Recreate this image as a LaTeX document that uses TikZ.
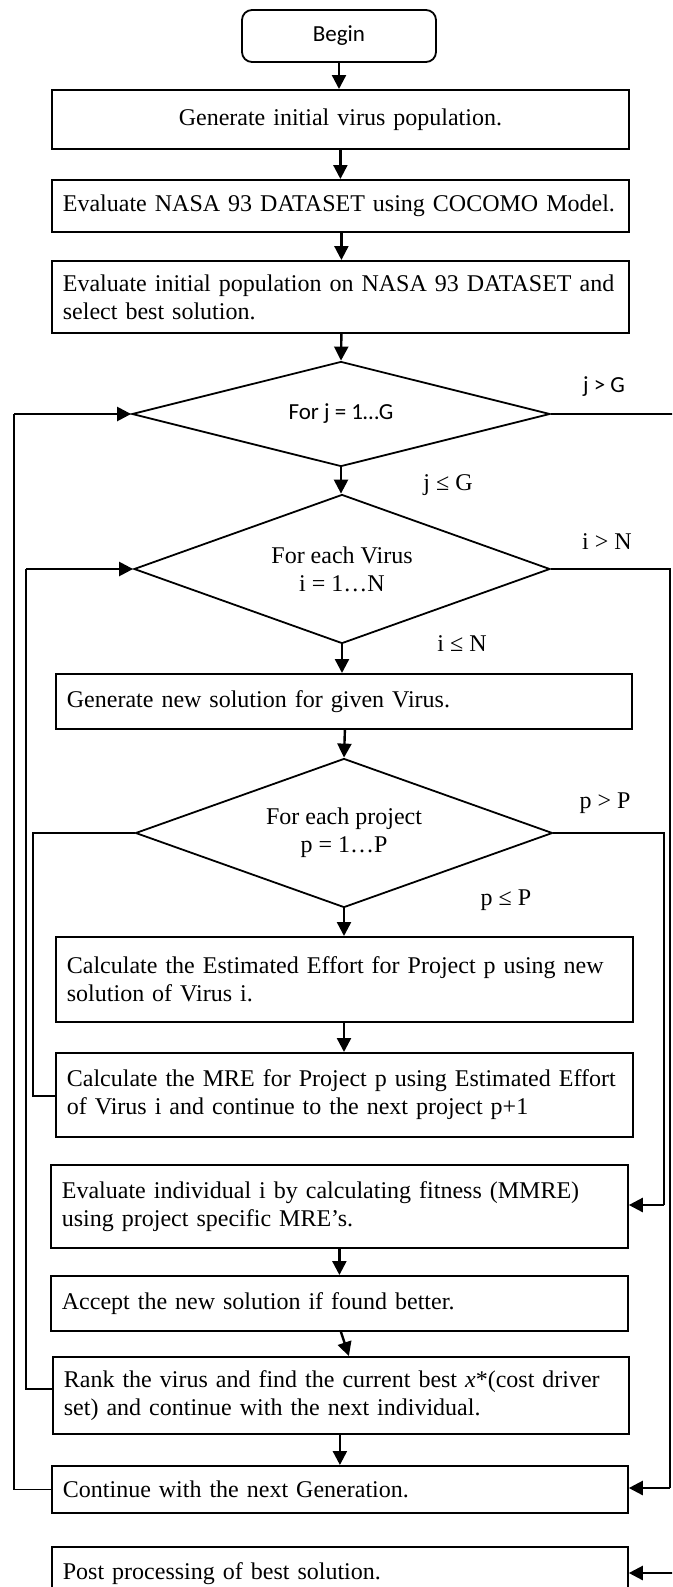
\documentclass[tikz,border=0pt]{standalone}
\usepackage{fontspec}
\setmainfont{Liberation Serif}
\newfontfamily\calibrifont{Carlito}
\usetikzlibrary{arrows.meta,shapes.geometric}
\newcommand\flowtext{\fontsize{24}{28}\selectfont}

\tikzset{
  procbox/.style={draw, line width=1.8pt, rectangle, anchor=north west,
    inner xsep=11pt, inner ysep=0pt, align=left, font=\flowtext},
  decision/.style={draw, diamond, line width=1.8pt, inner sep=0pt,
    shape aspect=2.8, align=center, font=\flowtext},
  flow/.style={line width=2.4pt, -{Triangle[length=14pt,width=14pt]}},
  loopline/.style={line width=1.2pt},
  cond/.style={font=\flowtext, inner sep=0pt},
}

\begin{document}
\begin{tikzpicture}[x=1pt,y=-1pt]
\useasboundingbox (0,0) rectangle (672,1587);
\clip (0,0) rectangle (672,1587);
\fill[white] (0,0) rectangle (672,1587);

% start terminal
\node[draw, rounded corners=10pt, line width=1.8pt, minimum width=194pt,
  minimum height=52pt, inner sep=0pt, font=\fontsize{23}{28}\selectfont\calibrifont]
  (begin) at (339,36) {Begin};

% initialisation
\node[procbox, align=center, text width=555pt, minimum height=59pt] (b1) at (51,89)
  {Generate initial virus population.};
\node[procbox, text width=555pt, minimum height=52pt] (b2) at (51,179)
  {Evaluate NASA 93 DATASET using COCOMO Model.};
\node[procbox, text width=555pt, minimum height=72pt] (b3) at (51,260)
  {Evaluate initial population on NASA 93 DATASET and\\select best solution.};

% generation loop
\node[decision, shape aspect=4, minimum width=418pt, minimum height=105pt,
  font=\fontsize{23}{28}\selectfont\calibrifont] (d1) at (341,414) {For j = 1…G};
% virus loop
\node[decision, minimum width=416pt, minimum height=149pt] (d2) at (342,569)
  {For each Virus\\i = 1…N};
\node[procbox, text width=554pt, minimum height=55pt] (b4) at (55,673)
  {Generate new solution for given Virus.};
% project loop
\node[decision, minimum width=417pt, minimum height=149pt] (d3) at (344,833)
  {For each project\\p = 1…P};
\node[procbox, text width=555pt, minimum height=85pt] (b5) at (55,936)
  {Calculate the Estimated Effort for Project p using new\\solution of Virus i.};
\node[procbox, text width=555pt, minimum height=84pt] (b6) at (55,1052)
  {Calculate the MRE for Project p using Estimated Effort\\of Virus i and continue to the next project p+1};

\node[procbox, text width=555pt, minimum height=83pt] (b7) at (50,1164)
  {Evaluate individual i by calculating fitness (MMRE)\\using project specific MRE’s.};
\node[procbox, text width=555pt, minimum height=55pt] (b8) at (50,1275)
  {Accept the new solution if found better.};
\node[procbox, text width=554pt, minimum height=77pt] (b9) at (52,1356)
  {Rank the virus and find the current best \textit{x}*(cost driver\\set) and continue with the next individual.};
\node[procbox, text width=554pt, minimum height=47pt] (b10) at (51,1465)
  {Continue with the next Generation.};
\node[procbox, text width=554pt, minimum height=54pt] (b11) at (51,1546)
  {Post processing of best solution.};

% condition labels
\node[cond, font=\fontsize{23}{28}\selectfont\calibrifont] (jgt) at (604,387) {j > G};
\node[cond] (jle) at (448,485) {j ≤ G};
\node[cond] (igt) at (607,542) {i > N};
\node[cond] (ile) at (462,644) {i ≤ N};
\node[cond] (pgt) at (605,803) {p > P};
\node[cond] (ple) at (506,900) {p ≤ P};

% main downward flow
\draw[flow] (begin.south) -- (begin.south |- b1.north);
\draw[flow] (b1.south) -- (b1.south |- b2.north);
\draw[flow] ([xshift=1pt]b2.south) -- ([xshift=1pt]b2.south |- b3.north);
\draw[flow] ([xshift=1pt]b3.south) -- (d1.north);
\draw[flow] (d1.south) -- ([xshift=-1pt]d2.north);
\draw[flow] (d2.south) -- (d2.south |- b4.north);
\draw[flow] ([xshift=1pt]b4.south) -- (d3.north);
\draw[flow] (d3.south) -- (d3.south |- b5.north);
\draw[flow] (d3.south |- b5.south) -- (d3.south |- b6.north);
\draw[flow] (b7.south) -- (b7.south |- b8.north);
\draw[flow] ([xshift=1.5pt]b8.south) -- ([xshift=8pt]b9.north);
\draw[flow] ([xshift=-1pt]b9.south) -- ([xshift=-1pt]b9.south |- b10.north);

% left-hand return paths
\coordinate (oL) at (14,414);
\coordinate (mL) at (26,569);
\coordinate (iL) at (33,833);
\draw[loopline] (b10.west) -| (oL);
\draw[flow] (oL) -- (d1.west);
\draw[loopline] ([yshift=6.5pt]b9.west) -| (mL);
\draw[flow] (mL) -- (d2.west);
\draw[loopline] ([yshift=-1pt]b6.west) -| (iL) -- (d3.west);

% right-hand exit paths
\coordinate (oR) at (677,1573);
\coordinate (mR) at (670,1488);
\coordinate (iR) at (664,1205);
\draw[loopline] (d1.east) -| (oR);
\draw[flow] (oR) -- (oR -| b11.east);
\draw[loopline] (d2.east) -| (mR);
\draw[flow] (mR) -- (b10.east |- mR);
\draw[loopline] (d3.east) -| (iR);
\draw[flow] (iR) -- (b7.east |- iR);
\end{tikzpicture}
\end{document}
